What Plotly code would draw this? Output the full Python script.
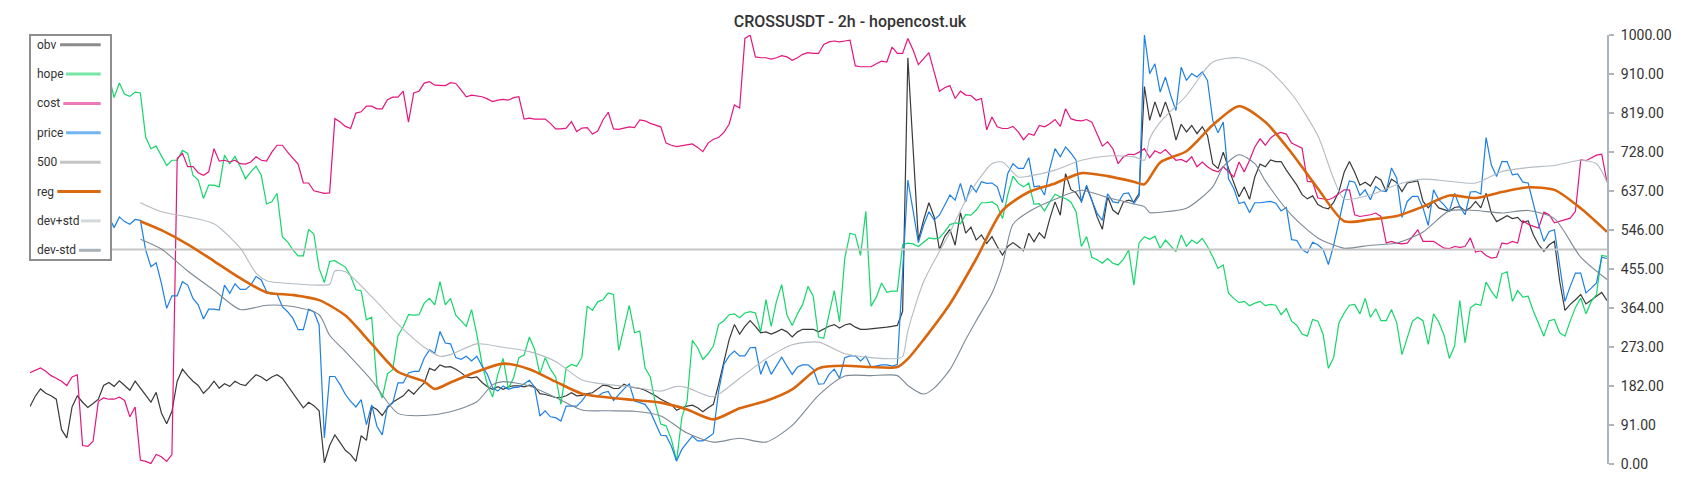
import plotly.graph_objects as go

# ---------------- data ----------------
N = 301
x_idx = list(range(N))

obv = [
    134, 158, 175, 165, 159, 151, 80, 61, 133, 159,
    144, 132, 141, 151, 183, 190, 181, 194, 183, 172,
    193, 177, 162, 144, 167, 119, 94, 123, 193, 221,
    206, 193, 183, 165, 177, 193, 177, 187, 181, 193,
    186, 183, 196, 208, 203, 194, 203, 208, 200, 182,
    167, 148, 131, 144, 136, 124, 3, 43, 68, 50,
    32, 22, 6, 66, 55, 134, 127, 113, 131, 144,
    151, 159, 173, 163, 177, 189, 223, 218, 231, 226,
    227, 221, 213, 203, 201, 203, 190, 180, 174, 180,
    174, 180, 182, 182, 180, 184, 180, 164, 162, 159,
    155, 155, 159, 166, 159, 160, 164, 166, 174, 184,
    182, 176, 176, 186, 180, 178, 176, 172, 166, 159,
    151, 145, 139, 125, 131, 135, 137, 131, 122, 131,
    139, 186, 240, 290, 325, 303, 321, 334, 321, 306,
    308, 303, 308, 314, 308, 296, 308, 314, 314, 314,
    308, 314, 321, 325, 317, 324, 327, 319, 314, 314,
    315, 316, 317, 319, 321, 323, 356, 947, 735, 522,
    569, 609, 576, 500, 530, 547, 510, 586, 538, 552,
    522, 534, 514, 530, 507, 487, 507, 516, 507, 497,
    538, 518, 539, 526, 572, 611, 580, 677, 640, 632,
    613, 646, 615, 576, 547, 623, 592, 582, 611, 615,
    611, 631, 880, 801, 844, 809, 844, 809, 755, 792,
    774, 789, 770, 786, 766, 700, 689, 727, 689, 654,
    623, 646, 617, 669, 699, 693, 709, 705, 705, 685,
    668, 650, 628, 618, 625, 605, 598, 595, 610, 635,
    680, 705, 680, 650, 657, 648, 670, 662, 635, 664,
    656, 635, 655, 657, 660, 612, 597, 612, 597, 593,
    589, 598, 600, 590, 597, 612, 597, 631, 585, 565,
    573, 579, 572, 575, 562, 567, 534, 511, 496, 511,
    519, 426, 358, 372, 383, 395, 373, 383, 391, 400,
    381,
]

hope = [
    905, 915, 895, 910, 900, 920, 905, 890, 910, 900,
    915, 895, 905, 910, 900, 906, 854, 888, 862, 857,
    867, 865, 762, 735, 741, 720, 696, 708, 708, 731,
    724, 673, 662, 619, 650, 650, 646, 720, 700, 717,
    693, 665, 681, 694, 673, 606, 611, 631, 530, 518,
    499, 485, 485, 547, 536, 456, 423, 472, 474, 466,
    459, 438, 406, 404, 336, 342, 185, 154, 210, 220,
    299, 320, 348, 347, 348, 375, 386, 371, 425, 371,
    386, 347, 334, 321, 360, 302, 232, 186, 156, 209,
    246, 176, 201, 248, 254, 296, 267, 209, 248, 221,
    203, 139, 224, 232, 228, 249, 368, 358, 378, 383,
    399, 395, 265, 317, 370, 306, 310, 224, 203, 139,
    93, 89, 58, 7, 108, 147, 288, 271, 244, 257,
    275, 325, 334, 348, 350, 341, 352, 355, 352, 308,
    383, 321, 379, 418, 347, 323, 350, 372, 414, 391,
    296, 293, 352, 404, 331, 480, 538, 534, 486, 589,
    368, 389, 422, 400, 403, 403, 511, 515, 513, 507,
    517, 527, 525, 527, 541, 558, 562, 560, 581, 580,
    592, 609, 609, 611, 603, 572, 627, 671, 654, 646,
    655, 606, 607, 590, 611, 629, 623, 619, 611, 588,
    507, 530, 482, 476, 468, 479, 468, 464, 477, 499,
    417, 516, 530, 524, 531, 503, 522, 508, 495, 534,
    508, 522, 514, 526, 507, 483, 456, 464, 398, 386,
    376, 379, 369, 375, 379, 369, 372, 370, 348, 362,
    333, 323, 303, 298, 337, 333, 302, 223, 248, 329,
    352, 370, 372, 350, 386, 342, 362, 334, 334, 360,
    329, 255, 296, 333, 342, 334, 279, 350, 331, 300,
    246, 275, 381, 282, 364, 373, 370, 424, 403, 386,
    443, 448, 379, 404, 389, 391, 356, 327, 298, 334,
    337, 306, 298, 333, 365, 387, 350, 379, 395, 486,
    484,
]

cost = [
    213, 218, 224, 216, 206, 200, 193, 183, 203, 208,
    43, 41, 53, 146, 154, 151, 151, 156, 148, 110,
    133, 9, 6, 1, 22, 17, 6, 22, 712, 724,
    693, 693, 679, 673, 681, 735, 706, 708, 704, 708,
    700, 699, 704, 716, 708, 706, 727, 743, 743, 727,
    712, 699, 655, 655, 637, 634, 631, 632, 805, 797,
    787, 782, 818, 821, 834, 834, 828, 828, 849, 855,
    855, 869, 797, 865, 869, 888, 891, 883, 882, 882,
    889, 887, 872, 856, 860, 858, 856, 851, 845, 848,
    850, 848, 854, 856, 804, 806, 804, 804, 804, 794,
    781, 781, 783, 798, 775, 783, 784, 769, 776, 802,
    820, 781, 780, 783, 786, 784, 802, 800, 794, 790,
    786, 748, 743, 740, 742, 745, 746, 738, 728, 748,
    757, 761, 773, 792, 837, 830, 992, 1000, 949, 947,
    947, 944, 947, 952, 949, 941, 947, 955, 959, 957,
    957, 978, 984, 986, 984, 986, 988, 928, 926, 926,
    926, 933, 939, 937, 972, 957, 957, 992, 965, 931,
    945, 959, 914, 869, 877, 882, 852, 869, 860, 859,
    848, 852, 779, 809, 786, 782, 782, 787, 774, 756,
    770, 766, 789, 786, 793, 803, 787, 828, 805, 801,
    800, 803, 797, 770, 741, 751, 735, 700, 716, 722,
    721, 727, 735, 714, 730, 724, 733, 720, 708, 710,
    704, 716, 693, 704, 693, 685, 681, 693, 681, 669,
    704, 681, 708, 739, 758, 743, 760, 769, 773, 769,
    748, 742, 736, 659, 657, 620, 618, 616, 621, 629,
    639, 639, 581, 577, 579, 581, 585, 577, 515, 519,
    515, 513, 515, 531, 546, 519, 519, 519, 511, 503,
    502, 507, 505, 507, 527, 494, 497, 486, 480, 482,
    515, 513, 519, 515, 567, 559, 554, 550, 587, 581,
    562, 566, 569, 573, 589, 709, 707, 713, 720, 722,
    657,
]

price = [
    572, 560, 578, 566, 575, 583, 570, 562, 575, 580,
    568, 574, 565, 578, 570, 576, 551, 576, 565, 559,
    570, 568, 499, 460, 469, 421, 363, 392, 392, 425,
    417, 386, 371, 338, 361, 361, 359, 417, 398, 420,
    407, 407, 417, 437, 429, 402, 396, 396, 367, 355,
    340, 313, 313, 361, 355, 324, 61, 204, 204, 185,
    162, 146, 133, 150, 92, 138, 88, 68, 134, 142,
    189, 189, 212, 216, 216, 247, 266, 258, 309, 282,
    280, 248, 244, 251, 240, 251, 228, 209, 178, 170,
    182, 174, 178, 179, 187, 195, 179, 112, 124, 110,
    108, 100, 135, 135, 135, 147, 164, 158, 158, 166,
    169, 148, 162, 175, 187, 147, 143, 139, 122, 96,
    67, 66, 42, 7, 34, 50, 65, 54, 54, 62,
    71, 170, 232, 252, 263, 252, 252, 271, 272, 209,
    240, 209, 228, 249, 228, 209, 226, 231, 231, 221,
    186, 187, 209, 221, 200, 248, 252, 252, 240, 251,
    226, 228, 231, 231, 228, 232, 440, 662, 590, 516,
    557, 588, 569, 580, 603, 627, 615, 654, 611, 650,
    634, 658, 654, 655, 646, 609, 677, 700, 689, 689,
    714, 646, 648, 627, 689, 735, 716, 739, 725, 708,
    609, 650, 615, 584, 568, 630, 611, 609, 630, 632,
    607, 625, 1000, 910, 933, 867, 902, 859, 824, 925,
    894, 910, 902, 914, 894, 801, 772, 797, 665, 642,
    607, 611, 586, 609, 609, 611, 612, 608, 590, 598,
    523, 521, 500, 492, 517, 511, 500, 465, 510, 565,
    620, 660, 657, 626, 639, 616, 647, 637, 635, 690,
    666, 575, 612, 624, 624, 597, 556, 639, 616, 604,
    589, 631, 600, 581, 634, 635, 629, 761, 697, 670,
    705, 705, 674, 676, 657, 655, 604, 558, 519, 542,
    546, 457, 379, 414, 445, 445, 399, 410, 422, 482,
    479,
]

level_500 = [500] * N

reg_x = [21, 25, 30, 35, 40, 45, 50, 55, 60, 65, 70, 75, 77, 80, 85, 90, 95, 100, 105, 110,
         115, 120, 125, 130, 135, 140, 145, 150, 155, 160, 165, 167, 170, 175, 180, 185, 190, 195, 200, 205,
         210, 212, 215, 220, 225, 230, 235, 240, 245, 250, 255, 260, 265, 270, 275, 280, 285, 290, 295, 300]
reg = [566, 545, 512, 473, 433, 400, 394, 382, 346, 280, 215, 192, 175, 190, 215, 234, 221, 192, 164, 155,
       149, 143, 127, 104, 130, 147, 174, 223, 229, 226, 226, 245, 290, 373, 478, 591, 634, 654, 678, 671,
       658, 652, 703, 729, 790, 834, 797, 725, 642, 566, 570, 578, 600, 626, 620, 634, 645, 639, 596, 541]

dev_up_x = [21, 25, 30, 35, 40, 43, 45, 50, 55, 57, 58, 60, 65, 70, 75, 78, 80, 85, 90, 95,
            100, 105, 110, 115, 120, 123, 125, 130, 135, 140, 145, 150, 155, 160, 165, 166, 167,
            170, 175, 178, 180, 183, 185, 188, 190, 195, 200, 205, 210, 212, 213, 215, 220, 225,
            230, 235, 240, 245, 248, 250, 255, 260, 265, 270, 275, 280, 285, 290, 295, 298, 300]
dev_up = [609, 588, 576, 560, 503, 445, 427, 420, 417, 419, 450, 448, 390, 326, 272, 251, 255, 280, 272, 262,
          239, 196, 185, 179, 170, 181, 178, 157, 200, 245, 278, 284, 257, 248, 246, 250, 310,
          425, 540, 615, 655, 700, 704, 669, 671, 685, 708, 718, 716, 708, 758, 797, 859, 937,
          947, 925, 863, 765, 665, 618, 627, 651, 664, 659, 655, 682, 691, 696, 708, 700, 657]

dev_dn_x = [21, 25, 30, 35, 40, 45, 50, 55, 57, 60, 65, 70, 75, 80, 85, 88, 90, 95, 100, 105,
            110, 115, 120, 125, 130, 135, 140, 145, 150, 155, 160, 165, 167, 170, 172, 175, 178, 180, 183, 185,
            187, 190, 195, 200, 205, 210, 212, 213, 215, 220, 225, 227, 230, 233, 235, 240, 245, 250, 255, 260,
            265, 270, 275, 280, 285, 290, 295, 300]
dev_dn = [524, 501, 450, 405, 360, 370, 367, 348, 300, 262, 195, 118, 113, 122, 145, 185, 192, 182, 155, 126,
          124, 123, 112, 72, 51, 60, 51, 90, 160, 205, 206, 206, 183, 163, 177, 220, 290, 334, 398, 464,
          559, 588, 617, 638, 621, 606, 600, 586, 587, 596, 646, 693, 721, 700, 660, 580, 527, 503, 510, 515,
          541, 590, 591, 585, 591, 572, 482, 430]

series_names = ["obv", "hope", "cost", "price", "500", "reg", "dev+std", "dev-std"]
y_ticks = [0, 91, 182, 273, 364, 455, 546, 637, 728, 819, 910, 1000]
title_text = "CROSSUSDT - 2h - hopencost.uk"

# ---------------- styles ----------------
line_color = {"obv": "#3a3a3a", "hope": "#14d66a", "cost": "#e3167f", "price": "#1d80e2",
              "500": "#c6c6c6", "reg": "#d9650c", "dev+std": "#b4bbc2", "dev-std": "#7d8995"}
line_width = {"obv": 1.2, "hope": 1.2, "cost": 1.2, "price": 1.2,
              "500": 2, "reg": 2.6, "dev+std": 1.1, "dev-std": 1.1}
line_shape = {"obv": "linear", "hope": "linear", "cost": "linear", "price": "linear",
              "500": "linear", "reg": "spline", "dev+std": "spline", "dev-std": "spline"}
legend_color = {"obv": "#8c8c8c", "hope": "#75e6a4", "cost": "#ec7ab9", "price": "#74b4ee",
                "500": "#c4c4c4", "reg": "#d96b12", "dev+std": "#d3d8dc", "dev-std": "#a9b1b8"}
swatch_start_px = [60, 66, 63.3, 66, 60, 57.3, 81, 79]

series_x = {"obv": x_idx, "hope": x_idx, "cost": x_idx, "price": x_idx, "500": x_idx,
            "reg": reg_x, "dev+std": dev_up_x, "dev-std": dev_dn_x}
series_y = {"obv": obv, "hope": hope, "cost": cost, "price": price, "500": level_500,
            "reg": reg, "dev+std": dev_up, "dev-std": dev_dn}

fig = go.Figure()
for n in series_names:
    line = dict(color=line_color[n], width=line_width[n], shape=line_shape[n])
    if line_shape[n] == "spline":
        line["smoothing"] = 0.7
    fig.add_trace(go.Scatter(
        x=series_x[n], y=series_y[n], mode="lines", name=n,
        line=line, hoverinfo="skip", showlegend=False,
    ))

# plot area in pixels
L, R, T, B = 30, 93, 35, 36
W, H = 1700, 500
PW, PH = W - L - R, H - T - B


def px_x(p):
    return (p - L) / PW


def px_y(p):
    return (H - B - p) / PH


shapes = [dict(type="rect", xref="paper", yref="paper",
               x0=px_x(30), x1=px_x(111), y0=px_y(260), y1=px_y(35),
               fillcolor="white", line=dict(color="#8e8e8e", width=2), layer="above")]
annotations = []
for k, n in enumerate(series_names):
    cy = 44.7 + 29.37 * k
    shapes.append(dict(type="line", xref="paper", yref="paper",
                       x0=px_x(swatch_start_px[k]), x1=px_x(100.7), y0=px_y(cy), y1=px_y(cy),
                       line=dict(color=legend_color[n], width=3), layer="above"))
    annotations.append(dict(xref="paper", yref="paper", x=px_x(35), y=px_y(cy),
                            xanchor="left", yanchor="middle", text=n, showarrow=False,
                            font=dict(family="Roboto", size=12, color="#333333")))

fig.update_layout(
    width=W, height=H, autosize=False,
    margin=dict(l=L, r=R, t=T, b=B, pad=0),
    paper_bgcolor="white", plot_bgcolor="white",
    showlegend=False,
    font=dict(family="Roboto", color="#333333"),
    title=dict(text=title_text, x=0.5, xref="container", xanchor="center",
               y=1 - 21 / H, yref="container", yanchor="middle",
               font=dict(family="Roboto", size=16, color="#333333", weight=500)),
    xaxis=dict(visible=False, range=[0, N - 1], fixedrange=True),
    yaxis=dict(side="right", range=[0, 1000], tickvals=y_ticks, tickformat=".2f",
               showgrid=False, zeroline=False, showline=True, linecolor="#adb5bd", linewidth=2,
               ticks="outside", ticklen=5, tickwidth=1.5, tickcolor="#adb5bd",
               tickfont=dict(family="Roboto", size=14, color="#333333"),
               ticklabelstandoff=4, fixedrange=True),
    shapes=shapes,
    annotations=annotations,
)

fig.write_html("out.html", config={"displayModeBar": False},
               post_script="document.body.style.margin='0';")
